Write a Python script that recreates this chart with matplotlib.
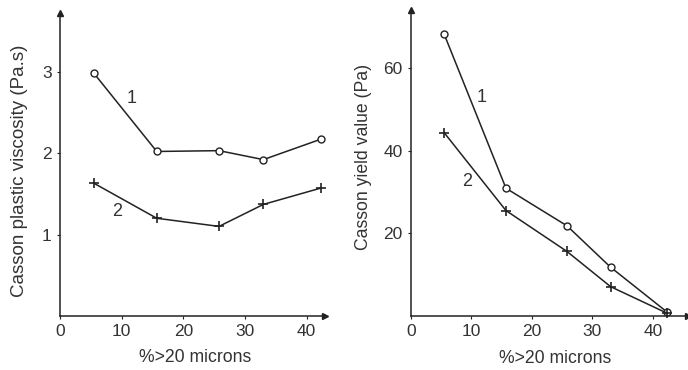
import matplotlib.pyplot as plt

plt.rcParams['font.family'] = ['Liberation Sans', 'DejaVu Sans']

# % of particles larger than 20 microns
coarse = [5.5, 15.7, 25.8, 33.0, 42.3]

# plastic viscosity (Pa.s)
visc_1 = [2.98, 2.02, 2.03, 1.92, 2.17]
visc_2 = [1.63, 1.20, 1.10, 1.37, 1.57]

# yield value (Pa)
yield_1 = [68.1, 30.9, 21.8, 11.8, 1.0]
yield_2 = [44.3, 25.5, 15.6, 7.1, 0.7]

fig = plt.figure(figsize=(6.88, 3.70), dpi=100)
ax1 = fig.add_axes([60/688, 54/370, 265/688, 303/370])
ax2 = fig.add_axes([411/688, 54/370, 277/688, 306/370])

lc = '#222222'
tc = '#333333'

def style(ax):
    for s in ['top', 'right']:
        ax.spines[s].set_visible(False)
    for s in ['left', 'bottom']:
        ax.spines[s].set_color(lc)
        ax.spines[s].set_linewidth(1.1)
    ax.tick_params(direction='out', length=2, width=0.8, colors=lc,
                   labelsize=12.5, labelcolor=tc, pad=4)
    # arrow heads at the axis ends
    ax.plot(1, 0, '>', color=lc, ms=5, transform=ax.transAxes, clip_on=False)
    ax.plot(0, 1, '^', color=lc, ms=5, transform=ax.transAxes, clip_on=False)

def draw(ax, y1, y2):
    ax.plot(coarse, y1, '-', color=lc, lw=1.1, marker='o', ms=5,
            mfc='white', mec=lc, mew=1.0, clip_on=False)
    ax.plot(coarse, y2, '-', color=lc, lw=1.1, marker='+', ms=7,
            mew=1.2, clip_on=False)

draw(ax1, visc_1, visc_2)
ax1.set_xlim(0, 43)
ax1.set_ylim(0, 3.72)
ax1.set_xticks([0, 10, 20, 30, 40])
ax1.set_yticks([1, 2, 3])
ax1.text(11.7, 2.67, '1', fontsize=13, color=tc, ha='center', va='center')
ax1.text(9.3, 1.28, '2', fontsize=13, color=tc, ha='center', va='center')
ax1.set_ylabel('Casson plastic viscosity (Pa.s)', fontsize=13.5, color=tc)
ax1.yaxis.set_label_coords(-0.12, 0.48)
ax1.set_xlabel('%>20 microns', fontsize=12.7, color=tc)
ax1.xaxis.set_label_coords(0.51, -0.11)
style(ax1)

draw(ax2, yield_1, yield_2)
ax2.set_xlim(0, 45.8)
ax2.set_ylim(0, 74)
ax2.set_xticks([0, 10, 20, 30, 40])
ax2.set_yticks([20, 40, 60])
ax2.text(11.7, 52.8, '1', fontsize=13, color=tc, ha='center', va='center')
ax2.text(9.3, 32.5, '2', fontsize=13, color=tc, ha='center', va='center')
ax2.set_ylabel('Casson yield value (Pa)', fontsize=12.7, color=tc)
ax2.yaxis.set_label_coords(-0.14, 0.52)
ax2.set_xlabel('%>20 microns', fontsize=12.7, color=tc)
ax2.xaxis.set_label_coords(0.52, -0.11)
style(ax2)

fig.savefig('out.png', dpi=100)
